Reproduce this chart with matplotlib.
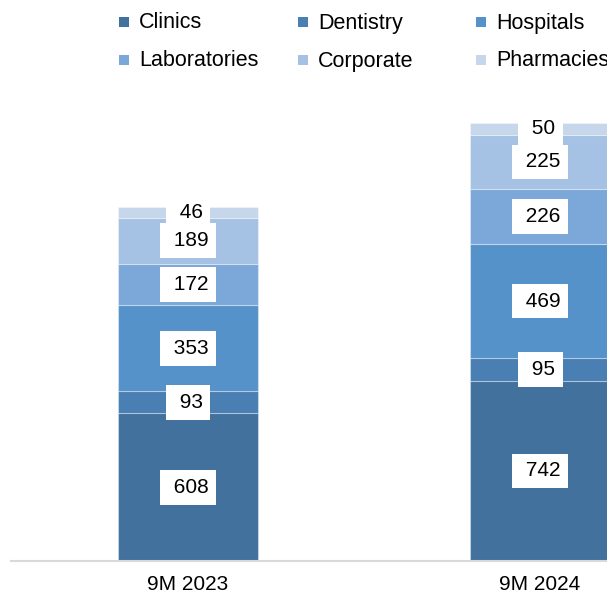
import matplotlib
matplotlib.use('Agg')
import matplotlib.pyplot as plt
from matplotlib.patches import Rectangle

plt.rcParams['font.family'] = ['Liberation Sans', 'DejaVu Sans']

periodos = ['9M 2023', '9M 2024']
segmentos = ['Clinics', 'Dentistry', 'Hospitals', 'Laboratories', 'Corporate', 'Pharmacies']
valores = {
    'Clinics': [608, 742],
    'Dentistry': [93, 95],
    'Hospitals': [353, 469],
    'Laboratories': [172, 226],
    'Corporate': [189, 225],
    'Pharmacies': [46, 50],
}
colores = ['#41719C', '#4A7FB3', '#5592C9', '#7BA7D9', '#A5C1E3', '#C6D6EB']

W, H = 607, 595
fig = plt.figure(figsize=(W / 100, H / 100), dpi=100)
# ejes: linea base en y=561px, desde x=11px hasta el borde derecho
ax = fig.add_axes([11 / W, 34 / H, 1 - 11 / W, (561 - 100) / H])

x = [0, 1]
base = [0, 0]
for nombre, color in zip(segmentos, colores):
    vals = valores[nombre]
    ax.bar(x, vals, bottom=base, width=0.4, color=color, edgecolor=(1, 1, 1, 0.35), linewidth=0.8)
    for xi, b, v in zip(x, base, vals):
        ax.text(xi, b + v / 2, f' {v}', ha='center', va='center', fontsize=15, color='#000000',
                bbox=dict(boxstyle='square,pad=0.38', fc='white', ec='none'))
    base = [b + v for b, v in zip(base, vals)]

ax.set_xlim(-0.503, 1.19)
ax.set_ylim(0, 1900)
ax.set_xticks(x)
ax.set_xticklabels(periodos, fontsize=15)
ax.tick_params(axis='x', length=0, pad=10)
ax.set_yticks([])
for lado in ['top', 'right', 'left']:
    ax.spines[lado].set_visible(False)
ax.spines['bottom'].set_color('#D9D9D9')
ax.spines['bottom'].set_linewidth(1.5)

# leyenda manual, 3 columnas
col_x = [124, 303, 481]
fila_y = [22, 60]
for i, (nombre, color) in enumerate(zip(segmentos, colores)):
    cx = col_x[i % 3]
    cy = fila_y[i // 3]
    fig.patches.append(Rectangle(((cx - 5) / W, 1 - (cy + 5) / H), 10 / W, 10 / H,
                                 transform=fig.transFigure, fc=color, ec='none'))
    fig.text((cx + 15) / W, 1 - (cy + 1) / H, nombre, fontsize=15.5, va='center', ha='left')

fig.savefig('out.png', dpi=100)
